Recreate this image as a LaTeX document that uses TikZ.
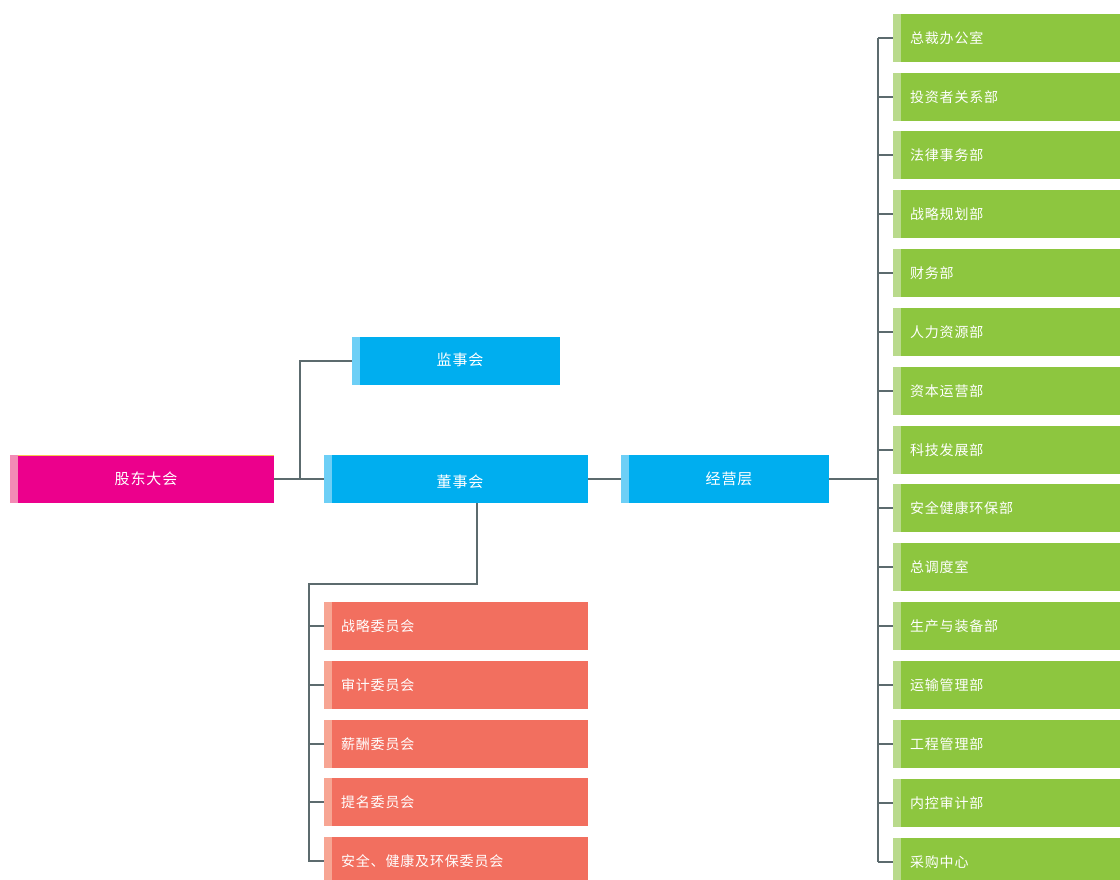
\documentclass[tikz,border=0pt]{standalone}
\usepackage{fontspec}
\newfontfamily\cjk[LetterSpace=6]{Noto Sans CJK SC}
\definecolor{pinkmain}{HTML}{EC008C}
\definecolor{pinkstrip}{HTML}{F38BB5}
\definecolor{bluemain}{HTML}{00AEEF}
\definecolor{bluestrip}{HTML}{6DCFF6}
\definecolor{greenmain}{HTML}{8DC63F}
\definecolor{greenstrip}{HTML}{B9DA8C}
\definecolor{redmain}{HTML}{F26F5F}
\definecolor{redstrip}{HTML}{F7A593}
\definecolor{linegray}{HTML}{5C6B6E}
\definecolor{topyellow}{HTML}{F9C74F}
\tikzset{
  box/.style={draw=none, minimum height=48pt, inner sep=0pt, outer sep=0pt, text=white,
    path picture={\fill[#1] (path picture bounding box.south west) rectangle ([xshift=8pt]path picture bounding box.north west);}},
  topbox/.style={font=\cjk\fontsize{15}{17}\selectfont},
  pinkbox/.style={box=pinkstrip, fill=pinkmain, topbox, minimum width=264pt},
  bluebox/.style={box=bluestrip, fill=bluemain, topbox, minimum width=#1},
  greenbox/.style={box=greenstrip, fill=greenmain, font=\cjk\fontsize{14}{16}\selectfont, text width=227pt, align=left},
  redbox/.style={box=redstrip, fill=redmain, font=\cjk\fontsize{14}{16}\selectfont, text width=264pt, align=left},
  conn/.style={draw=linegray, line width=1.2pt}
}
\begin{document}
\begin{tikzpicture}[x=1pt,y=-1pt]
\clip (0,0) rectangle (1120,879);
\fill[white] (0,0) rectangle (1120,879);
% top-level nodes
\node[pinkbox] (gd) at (142,479) {\hspace*{8pt}股东大会};
\draw[topyellow, line width=0.6pt] ([xshift=8pt]gd.north west) -- (gd.north east);
\node[bluebox=208pt] (js) at (456,361) {\hspace*{8pt}\raisebox{1.5pt}[\height][\depth]{监事会}};
\node[bluebox=264pt] (ds) at (456,479) {\hspace*{8pt}\raisebox{-3pt}[\height][\depth]{董事会}};
\node[bluebox=208pt] (jy) at (725,479) {\hspace*{8pt}经营层};
% green departments
\foreach \i/\y/\t in {1/38/总裁办公室,2/97/投资者关系部,3/155/法律事务部,4/214/战略规划部,5/273/财务部,
  6/332/人力资源部,7/391/资本运营部,8/450/科技发展部,9/508/安全健康环保部,10/567/总调度室,
  11/626/生产与装备部,12/685/运输管理部,13/744/工程管理部,14/803/内控审计部,15/862/采购中心}{
  \node[greenbox] (g\i) at (1006.5,\y) {\hspace*{17pt}\t};
}
% red committees
\foreach \i/\y/\t in {1/626/战略委员会,2/685/审计委员会,3/744/薪酬委员会,4/802/提名委员会,5/861/安全、健康及环保委员会}{
  \node[redbox] (r\i) at (456,\y) {\hspace*{17pt}\t};
}
% connectors
\coordinate (j1) at (300,479);
\coordinate (t) at (878,479);
\coordinate (rt) at (309,584);
\draw[conn] (gd.east) -- (ds.west);
\draw[conn] (j1) |- (js.west);
\draw[conn] (ds.east) -- (jy.west);
\draw[conn] (jy.east) -- (t);
\draw[conn] (g1.west -| t) -- (g15.west -| t);
\foreach \i in {1,...,15}{
  \draw[conn] (g\i.west -| t) -- (g\i.west);
}
\draw[conn] ([xshift=21pt]ds.south) |- (rt) |- (r5.west);
\foreach \i in {1,...,4}{
  \draw[conn] (r\i.west -| rt) -- (r\i.west);
}
\end{tikzpicture}
\end{document}
